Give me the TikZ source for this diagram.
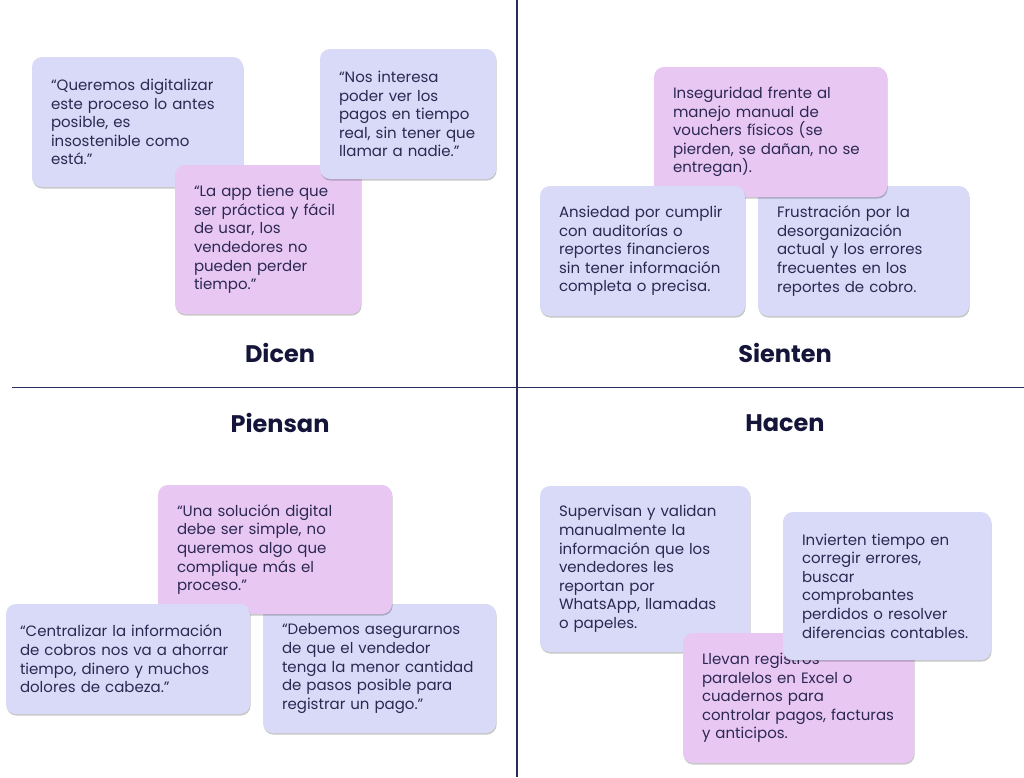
\documentclass[tikz,border=0pt]{standalone}
\usepackage{fontspec}
\setmainfont{Poppins}
\usetikzlibrary{shadows}

\definecolor{cardblue}{HTML}{D8DAF7}
\definecolor{cardpink}{HTML}{E8C8F3}
\definecolor{cardtext}{HTML}{2C2852}
\definecolor{axisline}{HTML}{2A2D5A}
\definecolor{titletext}{HTML}{15153A}

\begin{document}
\begin{tikzpicture}[
  x=1pt, y=-1pt,
  card/.style={rounded corners=10pt, inner xsep=19pt, inner ysep=0pt, align=left,
    text=cardtext, font=\fontsize{15}{18.6}\selectfont,
    drop shadow={shadow xshift=0.6pt, shadow yshift=-1.6pt, opacity=0.22, fill=black}},
  bluecard/.style={card, fill=cardblue},
  pinkcard/.style={card, fill=cardpink},
  title/.style={font=\fontsize{24}{28}\selectfont\bfseries, text=titletext},
  axis/.style={draw=axisline, line width=1.6pt}
]
\useasboundingbox (0,0) rectangle (1024,777);

% Axes
\coordinate (top) at (517,0);
\coordinate (bottom) at (517,777);
\coordinate (left) at (12,387.5);
\coordinate (right) at (1024,387.5);
\draw[axis] (top) -- (bottom);
\draw[axis] (left) -- (right);

% Dicen
\node[bluecard, text width=173pt, minimum height=130pt] (dicen1) at (137.5,122) {“Queremos digitalizar\\este proceso lo antes\\posible, es\\insostenible como\\está.”};
\node[pinkcard, text width=148pt, minimum height=149pt] (dicen3) at (268,239.5) {“La app tiene que\\ser práctica y fácil\\de usar, los\\vendedores no\\pueden perder\\tiempo.”};
\node[bluecard, text width=138pt, minimum height=130pt] (dicen2) at (408,114) {“Nos interesa\\poder ver los\\pagos en tiempo\\real, sin tener que\\llamar a nadie.”};
\node[title] (dicen) at (280,353) {Dicen};

% Sienten
\node[bluecard, text width=173pt, minimum height=130pt] (sienten3) at (863.5,251) {Frustración por la\\desorganización\\actual y los errores\\frecuentes en los\\reportes de cobro.};
\node[pinkcard, text width=195pt, minimum height=130pt] (sienten1) at (770.5,132) {Inseguridad frente al\\manejo manual de\\vouchers físicos (se\\pierden, se dañan, no se\\entregan).};
\node[bluecard, text width=167pt, minimum height=130pt] (sienten2) at (642.5,251) {Ansiedad por cumplir\\con auditorías o\\reportes financieros\\sin tener información\\completa o precisa.};
\node[title] (sienten) at (785,353) {Sienten};

% Piensan
\node[title] (piensan) at (280,423) {Piensan};
\node[bluecard, text width=195pt, minimum height=129pt] (piensan3) at (379.5,668.5) {“Debemos asegurarnos\\de que el vendedor\\tenga la menor cantidad\\de pasos posible para\\registrar un pago.”};
\node[pinkcard, text width=196pt, minimum height=129pt] (piensan1) at (275,549.5) {“Una solución digital\\debe ser simple, no\\queremos algo que\\complique más el\\proceso.”};
\node[bluecard, text width=216pt, inner xsep=14pt, minimum height=110pt] (piensan2) at (128,659) {“Centralizar la información\\de cobros nos va a ahorrar\\tiempo, dinero y muchos\\dolores de cabeza.”};

% Hacen
\node[title] (hacen) at (785,423) {Hacen};
\node[bluecard, text width=172pt, minimum height=166pt] (hacen1) at (645,569) {Supervisan y validan\\manualmente la\\información que los\\vendedores les\\reportan por\\WhatsApp, llamadas\\o papeles.};
\node[pinkcard, text width=193pt, minimum height=130pt] (hacen3) at (798.5,698) {Llevan registros\\paralelos en Excel o\\cuadernos para\\controlar pagos, facturas\\y anticipos.};
\node[bluecard, text width=170pt, minimum height=148pt] (hacen2) at (887,586) {Invierten tiempo en\\corregir errores,\\buscar\\comprobantes\\perdidos o resolver\\diferencias contables.};

\end{tikzpicture}
\end{document}
